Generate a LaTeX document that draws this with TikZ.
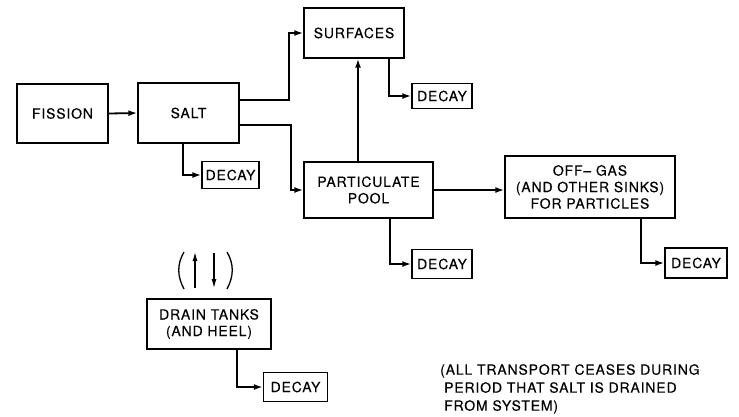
\documentclass[tikz,border=0pt]{standalone}
\usepackage{fontspec}
\setmainfont{TeX Gyre Heros}[LetterSpace=6,FakeBold=0.2]
\usetikzlibrary{arrows.meta,calc}
\begin{document}
\begin{tikzpicture}[x=1pt,y=-1pt,
  every node/.style={font=\fontsize{14}{16.5}\selectfont},
  box/.style={draw,line width=1.3pt,rectangle,align=center,inner sep=0pt},
  dbox/.style={box,minimum width=60pt,minimum height=27pt},
  arr/.style={line width=1.8pt,-{Latex[length=9pt,width=6pt]}},
  thin arr/.style={line width=1.1pt,-{Latex[length=9pt,width=5pt]}}]
\useasboundingbox (0,0) rectangle (739,416);
\node[box,minimum width=91pt,minimum height=59pt] (fission) at (62.5,113.5) {FISSION};
\node[box,minimum width=101pt,minimum height=60pt] (salt) at (188.5,113) {SALT};
\node[box,minimum width=100pt,minimum height=50pt] (surf) at (354,33) {SURFACES};
\node[box,minimum width=129pt,minimum height=56pt] (pool) at (368.5,190) {PARTICULATE\\POOL};
\node[box,minimum width=170pt,minimum height=62pt] (off) at (590,187) {OFF-- GAS\\(AND OTHER SINKS)\\FOR PARTICLES};
\node[box,minimum width=124pt,minimum height=50pt] (drain) at (209,324) {DRAIN TANKS\\(AND HEEL)};
\node[dbox,minimum width=57pt] (d1) at (230.5,175) {DECAY};
\node[dbox,minimum height=25pt] (d2) at (442,96) {DECAY};
\node[dbox,minimum height=29pt] (d3) at (442,264) {DECAY};
\node[dbox,minimum width=62pt,minimum height=30pt] (d4) at (696,263) {DECAY};
\node[dbox,minimum width=64pt,minimum height=29pt] (d5) at (295.5,387) {DECAY};
\node[anchor=north west,align=left,inner sep=0pt,font=\fontsize{14}{18}\selectfont] (note) at (440,364)
  {(ALL TRANSPORT CEASES DURING\\\hspace{4pt}PERIOD THAT SALT IS DRAINED\\\hspace{4pt}FROM SYSTEM)};
% connectors
\draw[arr] (fission.east) -- (salt.west);
\draw[arr] ([yshift=13pt]salt.east) -- ++(49,0) |- (surf.west);
\draw[arr] ([yshift=-12pt]salt.east) -- ++(51,0) |- (pool.west);
\draw[arr] ([xshift=-5.5pt]salt.south) |- (d1.west);
\draw[arr] ([xshift=35pt]surf.south) |- (d2.west);
\draw[arr] ([xshift=-10.5pt]pool.north) -- ([xshift=-10.5pt]pool.north |- surf.south);
\draw[arr] (pool.east) -- (pool.east -| off.west);
\draw[arr] ([xshift=21.5pt]pool.south) |- (d3.west);
\draw[arr] ([xshift=51pt]off.south) |- (d4.west);
\draw[arr] ([xshift=28pt]drain.south) |- (d5.west);
% drain arrows in parentheses
\coordinate (u1) at (195,288); \coordinate (u2) at (195,252);
\coordinate (w1) at (214,253); \coordinate (w2) at (214,288);
\draw[thin arr] (u1) -- (u2);
\draw[thin arr] (w1) -- (w2);
\draw[line width=1.3pt] (184,252) .. controls (177,264) and (177,276) .. (184,289);
\draw[line width=1.3pt] (227,252) .. controls (234,264) and (234,276) .. (227,289);
\end{tikzpicture}
\end{document}
